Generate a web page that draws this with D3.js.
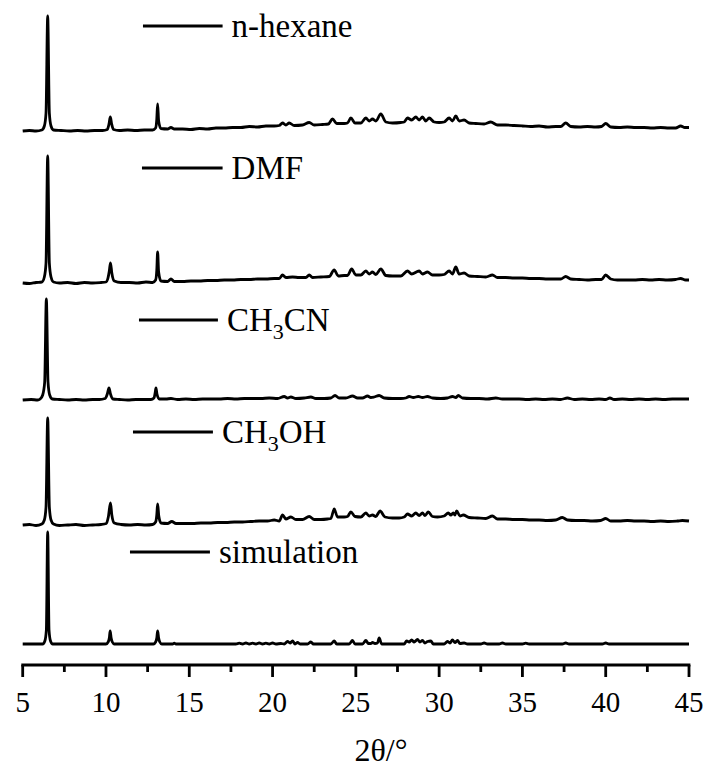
<!DOCTYPE html>
<html>
<head>
<meta charset="utf-8">
<script src="https://cdn.jsdelivr.net/npm/d3@7"></script>
<style>
	body { margin: 0; background: #fff; }
	svg { display: block; }
	text { font-family: "Liberation Serif", "Times New Roman", serif; fill: #000; }
</style>
</head>
<body>
<div id="chart"></div>
<script>
// XRD patterns, [2theta, intensity above baseline]
var hexane = [
	[5.0,0],[5.4,0.5],[5.8,0],[6.15,1],[6.3,5],[6.4,18],[6.5,115],[6.6,18],[6.7,5],[6.85,1],[7.3,0.5],[7.8,0],[8.3,0.5],[8.8,0],
	[9.3,0.5],[9.8,0.5],[10.08,1.5],[10.18,7],[10.26,14],[10.34,7],[10.45,1.5],[10.8,0.5],[11.3,1],[11.8,0.5],[12.3,1],[12.8,1],
	[12.98,3],[13.05,12],[13.1,27],[13.16,10],[13.3,2.5],[13.7,2],[13.9,3.5],[14.1,2],[14.6,2],[15.1,1.5],[15.6,2.5],[16.1,2],
	[16.6,3],[17.1,3],[17.6,3.5],[18.1,3.5],[18.6,4.5],[19.1,4],[19.6,5],[20.1,5],[20.4,5.5],[20.6,8],[20.8,6],[21.0,8],[21.3,5.5],
	[21.8,6],[22.2,8.5],[22.5,6],[23.0,6.5],[23.35,7],[23.6,12],[23.85,7.5],[24.3,7.5],[24.5,8],[24.7,13],[24.95,8],[25.3,8],
	[25.6,13],[25.8,10],[26.0,12],[26.2,10],[26.5,17],[26.8,9],[27.2,8],[27.7,8.5],[27.9,9],[28.1,13],[28.35,11],[28.6,14],
	[28.8,11],[29.0,14],[29.2,10],[29.4,13],[29.7,9],[30.0,8.5],[30.3,9],[30.6,13],[30.8,10],[31.0,15],[31.2,10],[31.5,11],
	[31.8,8],[32.2,7.5],[32.7,7],[33.1,9],[33.5,6],[34.0,6],[34.5,5.5],[35.0,5],[35.5,4.5],[36.0,5],[36.5,4],[37.0,4.5],
	[37.3,4.5],[37.6,8],[37.9,4.5],[38.4,4],[38.9,4.5],[39.4,4],[39.75,4.5],[40.0,7.5],[40.3,4],[40.8,3.5],[41.3,4],[41.8,3.5],
	[42.3,3.5],[42.8,3],[43.3,3.5],[43.8,3],[44.2,3],[44.5,5],[44.75,3.5],[45.0,3.5]
];

var dmf = [
	[5.0,0],[5.4,-0.5],[5.8,0.5],[6.15,1],[6.3,6],[6.4,20],[6.5,127],[6.6,20],[6.7,6],[6.85,1],[7.2,0],[7.7,0.5],[8.2,-0.5],
	[8.7,0.5],[9.2,0],[9.7,0.5],[10.0,1],[10.12,5],[10.2,12],[10.27,20],[10.35,10],[10.5,2],[10.9,0.5],[11.4,0.5],[11.9,0],
	[12.4,1],[12.8,0.5],[12.98,3],[13.05,13],[13.1,31],[13.16,11],[13.3,2],[13.7,1.5],[13.9,4],[14.1,1.5],[14.6,1.5],[15.1,2],
	[15.6,2],[16.1,2.5],[16.6,2.5],[17.1,3],[17.6,3],[18.1,3.5],[18.6,3.5],[19.1,4],[19.6,4],[20.1,4.5],[20.4,4.5],[20.6,8],
	[20.8,5.5],[21.2,6],[21.6,5.5],[22.0,5.5],[22.2,8],[22.4,5.5],[22.9,6],[23.4,6.5],[23.7,13],[23.95,7],[24.3,7.5],[24.5,7.5],
	[24.75,14],[25.0,8],[25.3,8],[25.6,12],[25.8,9],[26.0,11],[26.2,8.5],[26.5,14],[26.8,7.5],[27.2,7],[27.7,7],[28.1,12],
	[28.35,9],[28.8,12],[29.0,9],[29.3,11],[29.6,8],[30.0,8],[30.3,8.5],[30.6,12],[30.8,9],[31.0,16],[31.2,9],[31.5,10],
	[31.8,7],[32.3,6.5],[32.8,6],[33.2,8],[33.5,5.5],[34.0,5.5],[34.5,5],[35.0,5],[35.5,4.5],[36.0,4.5],[36.5,4],[37.0,4],
	[37.3,4],[37.6,6.5],[37.9,4],[38.4,3.5],[38.9,3],[39.4,3.5],[39.75,3.5],[40.0,8],[40.3,4],[40.7,3],[41.2,3],[41.7,3],
	[42.2,3.5],[42.7,3],[43.2,3.5],[43.7,3],[44.2,3.5],[44.5,4.5],[44.8,3],[45.0,3]
];

var acn = [
	[5.0,0],[5.5,0.5],[5.9,0],[6.05,1],[6.2,5],[6.32,18],[6.42,101],[6.52,18],[6.62,5],[6.78,1],[7.2,0.5],[7.7,0],[8.2,0.5],
	[8.7,0],[9.2,0.5],[9.6,0.5],[9.95,1.5],[10.08,6],[10.18,12],[10.27,6],[10.42,1],[10.8,0.5],[11.3,0],[11.8,0.5],[12.3,0.5],
	[12.7,0.5],[12.88,2],[12.95,7],[13.0,12],[13.06,6],[13.2,1],[13.6,1],[13.9,1.5],[14.3,0.5],[14.8,1],[15.3,0.5],[15.8,1],
	[16.3,1],[16.8,1],[17.3,1.5],[17.8,1],[18.3,1.5],[18.8,1.5],[19.3,1.5],[19.8,2],[20.3,1.5],[20.7,3.5],[20.9,2],[21.1,3],
	[21.4,1.5],[21.9,2],[22.3,3],[22.6,1.5],[23.1,1.5],[23.5,2],[23.75,4.5],[24.0,2],[24.4,2],[24.8,4],[25.1,2],[25.4,2],
	[25.7,4],[25.9,2.5],[26.1,3],[26.4,4.5],[26.7,2],[27.2,1.5],[27.7,1.5],[28.0,2],[28.2,3.5],[28.45,2.5],[28.75,3.5],
	[29.0,2.5],[29.3,3.5],[29.6,2],[30.1,1.5],[30.5,2],[30.8,3.5],[31.0,2.5],[31.15,4.5],[31.4,2],[31.9,1.5],[32.4,1.5],
	[32.9,1],[33.4,2],[33.8,1],[34.3,1],[34.8,1],[35.3,0.5],[35.8,1],[36.3,0.5],[36.8,1],[37.3,0.5],[37.7,2],[38.1,0.5],
	[38.6,1],[39.1,0.5],[39.6,1],[40.0,0.5],[40.25,2],[40.5,0.5],[41.0,1],[41.5,0.5],[42.0,1],[42.5,0.5],[43.0,1],[43.5,0.5],
	[44.0,1],[44.5,1],[45.0,1]
];

var meoh = [
	[5.0,0],[5.4,0.5],[5.8,-0.5],[6.15,1],[6.3,5],[6.4,18],[6.5,107],[6.6,18],[6.7,5],[6.85,1],[7.2,-0.5],[7.7,0],[8.2,0.5],
	[8.7,-0.5],[9.2,0],[9.7,0.5],[10.02,1.5],[10.14,8],[10.27,22],[10.35,10],[10.5,2],[10.9,0.5],[11.4,0],[11.9,0.5],
	[12.4,0],[12.8,0.5],[12.98,3],[13.05,10],[13.1,21],[13.17,9],[13.3,2],[13.7,1.5],[13.95,3.5],[14.2,1.5],[14.7,1.5],
	[15.2,1.5],[15.7,2],[16.2,2],[16.7,2.5],[17.2,2.5],[17.7,3],[18.2,3],[18.7,3.5],[19.2,4],[19.7,4],[20.1,5],[20.4,4],
	[20.6,10],[20.8,6],[21.1,8],[21.4,5.5],[21.8,5.5],[22.2,8.5],[22.5,5.5],[22.9,5.5],[23.3,6],[23.5,6.5],[23.7,16],[23.9,8],
	[24.3,8],[24.5,8.5],[24.7,13],[24.95,8.5],[25.3,8],[25.6,12],[25.8,9],[26.0,10],[26.2,8.5],[26.45,14],[26.75,8],[27.2,7],
	[27.6,7],[27.9,8],[28.1,11],[28.35,9],[28.6,12],[28.8,9.5],[29.0,12],[29.15,9.5],[29.35,13],[29.6,8.5],[29.9,8],[30.3,9],
	[30.55,12],[30.7,10],[30.85,12],[30.95,10],[31.05,14],[31.25,9],[31.45,10],[31.8,7.5],[32.3,7],[32.8,6.5],[33.2,9],
	[33.5,6],[34.0,6],[34.5,5.5],[35.0,5.5],[35.5,5],[36.0,5],[36.5,4.5],[37.0,5],[37.4,7.5],[37.7,5],[38.2,4.5],[38.7,4.5],
	[39.2,4],[39.7,4.5],[40.0,6.5],[40.3,4],[40.8,4],[41.3,4.5],[41.8,4],[42.3,4],[42.8,3.5],[43.3,4],[43.8,3.5],[44.3,4],
	[44.6,4.5],[45.0,4]
];

var sim = [
	[5.0,0],[6.2,0],[6.33,3],[6.42,14],[6.5,112],[6.58,14],[6.67,3],[6.8,0],[10.0,0],[10.13,2],[10.2,6],[10.25,13],[10.31,6],
	[10.38,2],[10.5,0],[12.85,0],[12.98,2],[13.05,6],[13.1,13],[13.16,6],[13.23,2],[13.35,0],[14.0,0],[14.1,0.8],[14.2,0],
	[17.8,0],[18.0,0.8],[18.2,0],[18.4,1],[18.6,0],[18.8,0.8],[19.0,0],[19.2,1],[19.4,0],[19.6,0.8],[19.8,0],[20.0,1],
	[20.2,0],[20.5,0.5],[20.7,0],[20.9,2.5],[21.05,1],[21.2,3],[21.35,0],[21.5,1.5],[21.65,0],[22.1,0],[22.3,2],[22.45,0],
	[23.5,0],[23.7,3],[23.85,0],[24.6,0],[24.8,3.5],[24.95,0],[25.4,0],[25.6,3.5],[25.75,0.5],[25.9,0.5],[26.0,1.5],
	[26.15,0.5],[26.3,1],[26.4,6],[26.55,0],[27.9,0],[28.05,3],[28.2,2],[28.35,4],[28.5,2],[28.7,4.5],[28.85,2],[29.0,3.5],
	[29.15,1],[29.3,2.5],[29.5,3],[29.65,0],[30.3,0],[30.5,2.5],[30.65,1],[30.8,4],[30.95,1.5],[31.1,3.5],[31.25,0.5],
	[31.5,1],[31.7,0],[32.5,0],[32.7,1],[32.9,0],[33.6,0],[33.8,1],[34.0,0],[35.0,0],[35.2,0.8],[35.4,0],[37.4,0],[37.6,1],
	[37.8,0],[39.8,0],[40.0,1],[40.2,0],[45.0,0]
];

var seriesNames = ["n-hexane", "DMF", "CH3CN", "CH3OH", "simulation"];
var seriesData = [hexane, dmf, acn, meoh, sim];
var xTicks = [5, 10, 15, 20, 25, 30, 35, 40, 45];
var xMinorTicks = [7.5, 12.5, 17.5, 22.5, 27.5, 32.5, 37.5, 42.5];
var xTitle = "2θ/°";

// layout: vertical stacking offset of each pattern and where its key sits
var offsets = [534, 382, 265, 140, 21];
var keyLine = [[12.22, 17.0, 105], [12.16, 17.0, 115], [11.98, 16.72, 80], [11.62, 16.42, 93], [11.44, 16.24, 92]];

var W = 708, H = 767;
var margin = { left: 22.7, right: 19, bottom: 102, top: 15 };

var svg = d3.select("#chart")
	.append("svg")
	.attr("width", W)
	.attr("height", H);

var x = d3.scaleLinear()
	.domain([5, 45])
	.range([margin.left, W - margin.right]);

var y = d3.scaleLinear()
	.domain([0, 650])
	.range([H - margin.bottom, margin.top]);

var line = d3.line()
	.curve(d3.curveMonotoneX);

seriesData.forEach((data, i) => {
	line.x(d => x(d[0])).y(d => y(d[1] + offsets[i]));
	svg.append("path")
		.attr("d", line(data))
		.attr("fill", "none")
		.attr("stroke", "#000")
		.attr("stroke-width", 2.8)
		.attr("stroke-linejoin", "round");
});

// key lines + labels
seriesNames.forEach((name, i) => {
	var k = keyLine[i];
	var ky = y(k[2] + offsets[i]);
	svg.append("line")
		.attr("x1", x(k[0])).attr("x2", x(k[1]))
		.attr("y1", ky).attr("y2", ky)
		.attr("stroke", "#000")
		.attr("stroke-width", 2.8);
	var t = svg.append("text")
		.attr("x", x(k[1]) + 9)
		.attr("y", ky + 11)
		.attr("font-size", 33);
	// chemical formulas get a subscript 3
	var parts = name.split(/(3)/);
	if (name.startsWith("CH3")) {
		parts.forEach(p => {
			if (p == "3") {
				t.append("tspan").attr("font-size", 22).attr("dy", 8).text(p);
			} else if (p.length) {
				t.append("tspan").attr("dy", p == parts[0] ? 0 : -8).text(p);
			}
		});
	} else {
		t.text(name);
	}
});

// x axis
var axisY = y(0);
var gx = svg.append("g");
gx.append("line")
	.attr("x1", x(5) - 1.4).attr("x2", x(45) + 1.4)
	.attr("y1", axisY).attr("y2", axisY)
	.attr("stroke", "#000").attr("stroke-width", 2.8);

gx.selectAll(".major")
	.data(xTicks)
	.join("line")
	.attr("x1", d => x(d)).attr("x2", d => x(d))
	.attr("y1", axisY).attr("y2", axisY + 12)
	.attr("stroke", "#000").attr("stroke-width", 2.8);

gx.selectAll(".minor")
	.data(xMinorTicks)
	.join("line")
	.attr("x1", d => x(d)).attr("x2", d => x(d))
	.attr("y1", axisY).attr("y2", axisY + 7)
	.attr("stroke", "#000").attr("stroke-width", 2.8);

gx.selectAll(".lbl")
	.data(xTicks)
	.join("text")
	.attr("x", d => x(d))
	.attr("y", axisY + 47)
	.attr("text-anchor", "middle")
	.attr("font-size", 29)
	.text(d => d);

svg.append("text")
	.attr("x", 381)
	.attr("y", 761)
	.attr("text-anchor", "middle")
	.attr("font-size", 32)
	.text(xTitle);
</script>
</body>
</html>
